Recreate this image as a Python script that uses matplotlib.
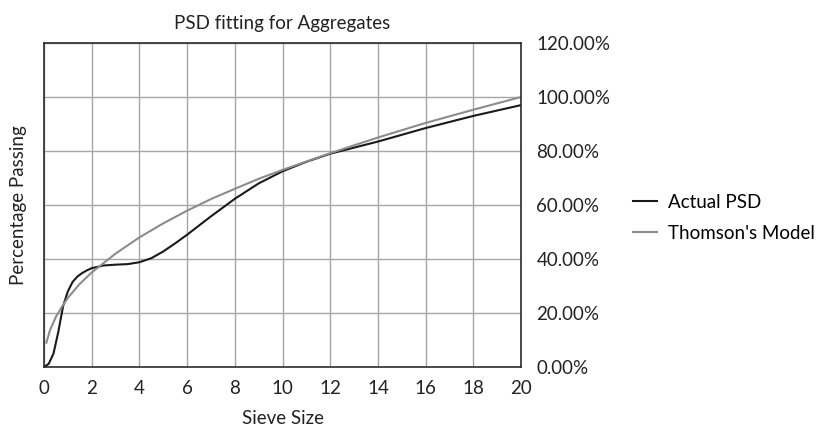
import numpy as np
import matplotlib

matplotlib.use('Agg')
import matplotlib.pyplot as plt
from matplotlib.ticker import MultipleLocator, FuncFormatter

plt.rcParams['font.family'] = ['Lato', 'DejaVu Sans']

# sieve size vs. fraction passing
actual_x = [0, 0.2, 0.4, 0.6, 0.8, 1.0, 1.2, 1.4, 1.6, 1.8, 2.0, 2.5, 3.0, 3.5, 4.0, 4.5, 5.0,
            5.5, 6.0, 7.0, 8.0, 9.0, 10.0, 11.0, 12.0, 14.0, 16.0, 18.0, 20.0]
actual_y = [0.0, 0.012, 0.05, 0.13, 0.225, 0.28, 0.315, 0.335, 0.348, 0.358, 0.366, 0.376,
            0.379, 0.381, 0.388, 0.403, 0.428, 0.458, 0.49, 0.558, 0.623, 0.68, 0.725, 0.76,
            0.79, 0.835, 0.885, 0.93, 0.97]

model_x = [0.1, 0.25, 0.5, 0.75, 1.0, 1.5, 2.0, 3.0, 4.0, 5.0, 6.0, 7.0, 8.0, 9.0, 10.0,
           12.0, 14.0, 16.0, 18.0, 20.0]
model_y = [0.09, 0.136, 0.186, 0.223, 0.256, 0.308, 0.35, 0.42, 0.48, 0.532, 0.579, 0.622,
           0.66, 0.697, 0.73, 0.792, 0.85, 0.904, 0.953, 1.0]

fig = plt.figure(figsize=(8.22, 4.29), dpi=100)
ax = fig.add_axes([0.0535, 0.1445, 0.5805, 0.7553])

ax.plot(actual_x, actual_y, color='#1a1a1a', lw=1.5, label='Actual PSD')
ax.plot(model_x, model_y, color='#8c8c8c', lw=1.5, label="Thomson's Model")

ax.set_xlim(0, 20)
ax.set_ylim(0, 1.2)
ax.xaxis.set_major_locator(MultipleLocator(2))
ax.yaxis.set_major_locator(MultipleLocator(0.2))
ax.yaxis.set_major_formatter(FuncFormatter(lambda v, p: '%.2f%%' % (v * 100)))
ax.yaxis.tick_right()
ax.tick_params(length=0, labelsize=13.5, colors='#222222')
ax.tick_params(axis='x', pad=9)
ax.tick_params(axis='y', pad=11)
ax.grid(True, color='#a6a6a6', lw=1)
ax.set_axisbelow(True)
for side in ['left', 'right', 'bottom', 'top']:
    ax.spines[side].set_color('#2b2b2b')
    ax.spines[side].set_linewidth(1.2)

ax.set_title('PSD fitting for Aggregates', fontsize=13.5, color='#222222', pad=10)
ax.set_xlabel('Sieve Size', fontsize=13.5, color='#222222', labelpad=10)
ax.set_ylabel('Percentage Passing', fontsize=13.5, color='#222222', labelpad=12)
ax.yaxis.set_label_position('left')

ax.legend(loc='center left', bbox_to_anchor=(1.2, 0.46), frameon=False, fontsize=13.5,
          handlelength=1.25, handletextpad=0.6, labelspacing=0.75)

fig.savefig('out.png', dpi=100)
